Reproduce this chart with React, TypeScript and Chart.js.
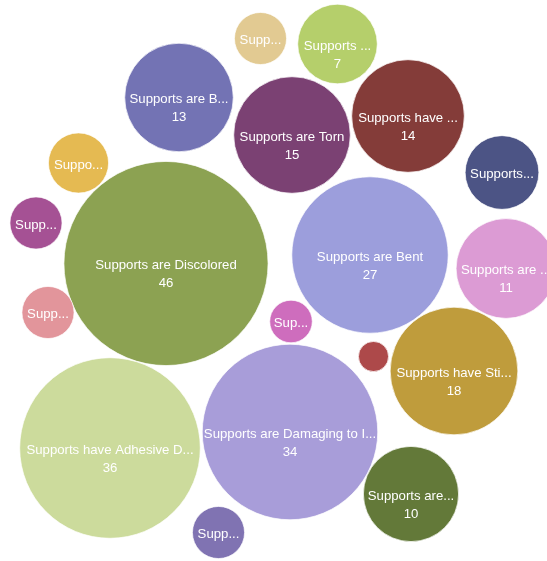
import React, { useEffect, useRef } from "react";
import { Chart, registerables } from "chart.js";

Chart.register(...registerables);

// Labels as they appear on the bubbles
const LABELS = [
  "Supports are Discolored",
  "Supports have Adhesive D...",
  "Supports are Damaging to I...",
  "Supports are Bent",
  "Supports have Sti...",
  "Supports are Torn",
  "Supports have ...",
  "Supports are B...",
  "Supports are ...",
  "Supports are...",
  "Supports ...",
  "Supports...",
  "Supp...",
  "Suppo...",
  "Supp...",
  "Supp...",
  "Sup...",
  "S...",
  "Supp...",
];

const VALUES = [46, 36, 34, 27, 18, 15, 14, 13, 11, 10, 7, 6, 3, 4, 3, 3, 2, 1, 3];

// Bubble centres in the layout space of the packed chart
const POS_X = [166, 110, 290, 370, 454, 292, 408, 179, 506, 411, 337.5, 502, 260.5, 78.5, 36, 48, 291, 373.5, 218.5];
const POS_Y = [263.5, 448, 432, 255, 371, 135, 116, 97.5, 268.5, 494, 44, 172.5, 38.5, 163, 223, 312.5, 321.5, 356.5, 532.5];

const COLORS = [
  "#8ca252", "#ccdb9c", "#a89dd9", "#9c9edc", "#bf9c3c",
  "#7b4173", "#843c39", "#7373b4", "#dc9bd4", "#637939",
  "#b5cf6b", "#4c5485", "#e2ca92", "#e5ba52", "#a55194",
  "#e2959b", "#ce6dbd", "#ad494a", "#8073b2",
];

const RADIUS_PER_SQRT = 15.05;

export default function App() {
  const ref = useRef<HTMLCanvasElement>(null);

  useEffect(() => {
    if (!ref.current) return;
    const labelPlugin = {
      id: "bubbleLabels",
      afterDatasetsDraw(chart: any) {
        const ctx = chart.ctx;
        const meta = chart.getDatasetMeta(0);
        ctx.save();
        ctx.fillStyle = "#ffffff";
        ctx.font = '13.2px "Liberation Sans", Arial, sans-serif';
        ctx.textAlign = "center";
        ctx.textBaseline = "middle";
        meta.data.forEach((el: any, i: number) => {
          const r = el.options.radius;
          if (r < 18) return;
          ctx.fillText(LABELS[i], el.x, el.y + 2);
          if (r >= 38) ctx.fillText(String(VALUES[i]), el.x, el.y + 20);
        });
        ctx.restore();
      },
    };

    const chart = new Chart(ref.current, {
      type: "bubble",
      data: {
        datasets: [
          {
            data: VALUES.map((v, i) => ({
              x: POS_X[i],
              y: POS_Y[i],
              r: RADIUS_PER_SQRT * Math.sqrt(v),
            })),
            backgroundColor: COLORS,
            borderColor: "rgba(255,255,255,0.7)",
            borderWidth: 1,
            clip: false,
          },
        ],
      },
      options: {
        animation: false,
        responsive: true,
        maintainAspectRatio: false,
        events: [],
        layout: { padding: 0, autoPadding: false },
        plugins: { legend: { display: false }, tooltip: { enabled: false } },
        scales: {
          x: { type: "linear", display: false, min: 0, max: 547 },
          y: { type: "linear", display: false, min: 0, max: 561, reverse: true },
        },
      },
      plugins: [labelPlugin],
    } as any);
    return () => chart.destroy();
  }, []);

  return (
    <div style={{ position: "fixed", left: 0, top: 0, width: 547, height: 561 }}>
      <canvas ref={ref} />
    </div>
  );
}
